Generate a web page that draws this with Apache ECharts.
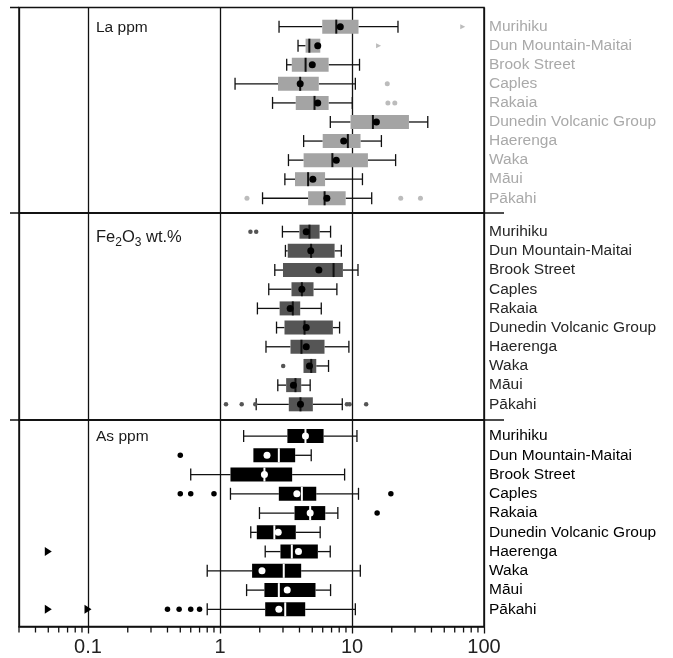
<!DOCTYPE html>
<html>
<head>
<meta charset="utf-8">
<script src="https://cdn.jsdelivr.net/npm/echarts@6.0.0/dist/echarts.min.js"></script>
<style>
  html, body { margin: 0; padding: 0; background: #fff; }
  #chart { width: 673px; height: 658px; }
</style>
</head>
<body>
<div id="chart"></div>
<script>
// groups, top to bottom in each panel
const groups = ['Murihiku', 'Dun Mountain-Maitai', 'Brook Street', 'Caples', 'Rakaia',
  'Dunedin Volcanic Group', 'Haerenga', 'Waka', 'Māui', 'Pākahi'];

// La ppm  [min, q1, median, q3, max]
const laBox = [
  [2.8, 5.95, 7.6, 11.2, 22.3],
  [3.9, 4.45, 4.75, 5.75, 5.75],
  [3.2, 3.5, 4.45, 6.65, 11.4],
  [1.3, 2.75, 4.05, 5.6, 10.6],
  [2.5, 3.75, 5.2, 6.65, 10.05],
  [6.85, 9.75, 14.4, 27, 37.5],
  [4.3, 6.0, 9.3, 11.6, 16.7],
  [3.3, 4.3, 7.1, 13.2, 21.4],
  [3.1, 3.7, 4.65, 6.25, 12],
  [2.1, 4.65, 6.2, 8.95, 14.1]
];
const laMean = [8.15, 5.5, 5.0, 4.05, 5.5, 15.3, 8.65, 7.6, 5.05, 6.45];
// [value, group index]
const laOut = [[18.5, 3], [18.7, 4], [21.1, 4], [1.6, 9], [23.4, 9], [33, 9]];
const laTri = [[69, 0], [15.9, 1]];

// Fe2O3 wt.%
const feBox = [
  [2.97, 4.0, 4.76, 5.68, 6.88],
  [3.13, 3.26, 4.9, 7.38, 8.3],
  [2.6, 3.0, 7.25, 8.53, 11.1],
  [2.34, 3.48, 4.17, 5.11, 7.68],
  [1.92, 2.83, 3.56, 4.05, 5.85],
  [2.68, 3.08, 4.37, 7.16, 8.05],
  [2.23, 3.42, 4.14, 6.19, 9.47],
  [4.29, 4.29, 4.91, 5.36, 6.64],
  [2.74, 3.17, 3.73, 4.12, 4.82],
  [1.88, 3.32, 4.07, 5.05, 8.44]
];
const feMean = [4.5, 4.87, 5.61, 4.17, 3.4, 4.5, 4.5, 4.76, 3.6, 4.07];
const feOut = [[1.7, 0], [1.88, 0], [3.01, 7], [1.11, 9], [1.46, 9], [1.85, 9],
  [9.15, 9], [9.59, 9], [12.8, 9]];
const feTri = [];

// As ppm
const asBox = [
  [1.51, 3.24, 4.44, 6.09, 10.9],
  [1.79, 1.79, 2.79, 3.71, 4.91],
  [0.6, 1.2, 2.17, 3.52, 8.79],
  [1.2, 2.79, 4.17, 5.36, 11.2],
  [1.99, 3.67, 4.82, 6.27, 7.81],
  [1.71, 1.9, 2.58, 3.75, 5.74],
  [2.2, 2.87, 3.5, 5.51, 6.84],
  [0.8, 1.75, 3.04, 4.12, 11.56],
  [1.59, 2.17, 2.79, 5.29, 6.88],
  [0.8, 2.2, 3.12, 4.42, 10.6]
];
const asMean = [4.44, 2.27, 2.17, 3.82, 4.82, 2.76, 3.93, 2.08, 3.23, 2.79];
const asOut = [[0.5, 1], [0.5, 3], [0.6, 3], [0.9, 3], [19.7, 3], [15.5, 4],
  [0.4, 9], [0.49, 9], [0.6, 9], [0.7, 9]];
const asTri = [[0.05, 6], [0.05, 9], [0.1, 9]];

// minor ticks on the log axis
const minorTicks = [0.03, 0.04, 0.05, 0.06, 0.07, 0.08, 0.09,
  0.2, 0.3, 0.4, 0.5, 0.6, 0.7, 0.8, 0.9,
  2, 3, 4, 5, 6, 7, 8, 9,
  20, 30, 40, 50, 60, 70, 80, 90];

const X_MIN = 0.03, X_MAX = 100;
const FONT = "'Liberation Sans', Arial, sans-serif";
const L = 19, R = 673 - 484;
const frameTop = [7.5, 213, 420];
const frameBottom = [213, 420, 626.5];
const rowTop = [17.1, 222.1, 426.4];
const rowH = [190.7, 191.8, 192.6];

const panels = [
  { title: 'La ppm', box: laBox, mean: laMean, out: laOut, tri: laTri,
    fill: '#a4a4a4', median: '#111', meanColor: '#000', outColor: '#bcbcbc', triSize: [5, 5], outSize: 5, label: '#a9a9a9' },
  { title: '{a|Fe}{s|2}{a|O}{s|3}{a| wt.%}', box: feBox, mean: feMean, out: feOut, tri: feTri,
    fill: '#555', median: '#111', meanColor: '#000', outColor: '#555', triSize: [5, 5], outSize: 4.5, label: '#262626' },
  { title: 'As ppm', box: asBox, mean: asMean, out: asOut, tri: asTri,
    fill: '#000', median: '#fff', meanColor: '#fff', outColor: '#000', triSize: [9, 7], outSize: 5.5, label: '#000' }
];

function boxRenderer(fill, medColor) {
  return function (params, api) {
    const y = api.coord([1, api.value(0)])[1];
    const p = [1, 2, 3, 4, 5].map(i => api.coord([api.value(i), api.value(0)])[0]);
    const h = 14, cap = 12;
    const ls = { stroke: '#111', lineWidth: 1.3 };
    const kids = [];
    if (p[0] < p[1] - 0.5) {
      kids.push({ type: 'line', shape: { x1: p[0], y1: y, x2: p[1], y2: y }, style: ls });
      kids.push({ type: 'line', shape: { x1: p[0], y1: y - cap / 2, x2: p[0], y2: y + cap / 2 }, style: ls });
    }
    if (p[4] > p[3] + 0.5) {
      kids.push({ type: 'line', shape: { x1: p[3], y1: y, x2: p[4], y2: y }, style: ls });
      kids.push({ type: 'line', shape: { x1: p[4], y1: y - cap / 2, x2: p[4], y2: y + cap / 2 }, style: ls });
    }
    kids.push({ type: 'rect', shape: { x: p[1], y: y - h / 2, width: p[3] - p[1], height: h }, style: { fill: fill } });
    kids.push({ type: 'line', shape: { x1: p[2], y1: y - h / 2, x2: p[2], y2: y + h / 2 },
      style: { stroke: medColor, lineWidth: 2 } });
    return { type: 'group', children: kids };
  };
}

const grid = [], xAxis = [], yAxis = [], series = [], title = [], graphic = [];

panels.forEach((pn, i) => {
  // frame grid: border and vertical decade lines
  grid.push({ left: L, right: R, top: frameTop[i], height: frameBottom[i] - frameTop[i],
    show: true, borderColor: '#111', borderWidth: 1.5, backgroundColor: 'transparent' });
  // data grid: rows of boxes
  grid.push({ left: L, right: R, top: rowTop[i], height: rowH[i] });
});

panels.forEach((pn, i) => {
  const last = i === panels.length - 1;
  xAxis.push({ gridIndex: 2 * i, type: 'log', logBase: 10, min: X_MIN, max: X_MAX,
    axisLine: { show: last, onZero: false, lineStyle: { color: '#111', width: 1.5 } },
    axisTick: { show: last, length: 7, lineStyle: { color: '#111', width: 1.3 } },
    axisLabel: { show: last, showMinLabel: false, fontSize: 20, color: '#222', margin: 11, fontFamily: FONT },
    splitLine: { show: true, lineStyle: { color: '#111', width: 1.3 } } });
  xAxis.push({ gridIndex: 2 * i + 1, type: 'log', logBase: 10, min: X_MIN, max: X_MAX, show: false });
  yAxis.push({ gridIndex: 2 * i, type: 'value', min: 0, max: 1, show: false });
  yAxis.push({ gridIndex: 2 * i + 1, type: 'category', data: groups, inverse: true, position: 'right',
    axisLine: { show: false }, axisTick: { show: false }, splitLine: { show: false },
    axisLabel: { interval: 0, color: pn.label, fontSize: 15.5, margin: 5, fontFamily: FONT } });

  const xi = 2 * i + 1, yi = 2 * i + 1;
  series.push({ type: 'custom', xAxisIndex: xi, yAxisIndex: yi, z: 3,
    renderItem: boxRenderer(pn.fill, pn.median),
    encode: { x: [1, 2, 3, 4, 5], y: 0 },
    data: pn.box.map((b, k) => [k].concat(b)) });
  series.push({ type: 'scatter', xAxisIndex: xi, yAxisIndex: yi, z: 4, symbolSize: 7,
    itemStyle: { color: pn.meanColor, opacity: 1 }, silent: true,
    data: pn.mean.map((v, k) => [v, k]) });
  series.push({ type: 'scatter', xAxisIndex: xi, yAxisIndex: yi, z: 4, symbolSize: pn.outSize,
    itemStyle: { color: pn.outColor, opacity: 1 }, silent: true, data: pn.out });
  series.push({ type: 'scatter', xAxisIndex: xi, yAxisIndex: yi, z: 4, symbol: 'triangle',
    symbolRotate: -90, symbolSize: pn.triSize,
    itemStyle: { color: pn.outColor, opacity: 1 }, silent: true, data: pn.tri });

  title.push({ text: pn.title, left: 96, top: [20, 225, 428.5][i], padding: 0,
    textStyle: { fontSize: 15.5, fontWeight: 'normal', color: '#1a1a1a', fontFamily: FONT,
      rich: { a: { fontSize: 16.5, color: '#1a1a1a', fontFamily: FONT },
              s: { fontSize: 12, color: '#1a1a1a', fontFamily: FONT, padding: [12, 0, 0, 0] } } } });
});

// minor ticks under the bottom axis
series.push({ type: 'custom', xAxisIndex: 4, yAxisIndex: 4, silent: true,
  renderItem: function (params, api) {
    const x = api.coord([api.value(0), 0])[0];
    const b = params.coordSys.y + params.coordSys.height;
    return { type: 'line', shape: { x1: x, y1: b, x2: x, y2: b + 6 }, style: { stroke: '#111', lineWidth: 1.3 } };
  },
  encode: { x: 0, y: 1 },
  data: minorTicks.map(v => [v, 0]) });

// small outward extensions of the frame lines
const ext = { stroke: '#111', lineWidth: 1.5 };
graphic.push({ type: 'line', shape: { x1: 10, y1: frameTop[0], x2: L, y2: frameTop[0] }, style: ext });
[frameTop[1], frameTop[2]].forEach(y => {
  graphic.push({ type: 'line', shape: { x1: 10, y1: y, x2: 504, y2: y }, style: ext });
});

const chart = echarts.init(document.getElementById('chart'));
chart.setOption({
  animation: false,
  backgroundColor: '#fff',
  textStyle: { fontFamily: FONT },
  title: title,
  grid: grid,
  xAxis: xAxis,
  yAxis: yAxis,
  series: series,
  graphic: graphic
});
</script>
</body>
</html>
